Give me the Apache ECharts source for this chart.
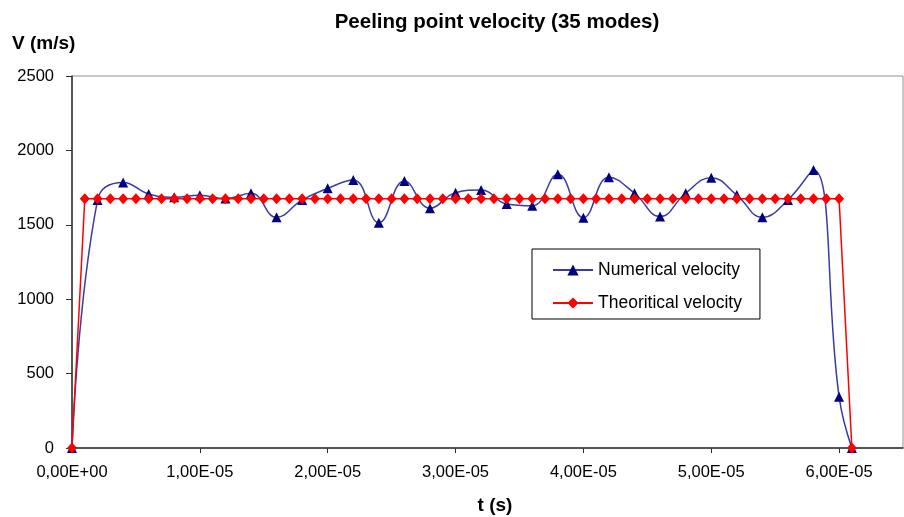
<!DOCTYPE html>
<html>
<head>
<meta charset="utf-8">
<script src="https://cdn.jsdelivr.net/npm/echarts@6/dist/echarts.min.js"></script>
<style>
  html, body { margin: 0; padding: 0; background: #fff; }
  #main { width: 904px; height: 517px; }
</style>
</head>
<body>
<div id="main"></div>
<script>
// time in microseconds
var numTimes = [0, 2, 4, 6, 8, 10, 12, 14, 16, 18, 20, 22, 24, 26, 28, 30,
  32, 34, 36, 38, 40, 42, 44, 46, 48, 50, 52, 54, 56, 58, 60, 61];
var numVelocity = [0, 1667, 1785, 1707, 1685, 1698, 1676, 1712, 1550, 1667, 1745,
  1801, 1514, 1794, 1611, 1716, 1734, 1640, 1628, 1839, 1548, 1819, 1712, 1555,
  1712, 1817, 1700, 1550, 1667, 1868, 345, 0];

var theoTimes = [0, 1, 2, 3, 4, 5, 6, 7, 8, 9, 10, 11, 12, 13, 14, 15, 16, 17, 18, 19,
  20, 21, 22, 23, 24, 25, 26, 27, 28, 29, 30, 31, 32, 33, 34, 35, 36, 37, 38, 39,
  40, 41, 42, 43, 44, 45, 46, 47, 48, 49, 50, 51, 52, 53, 54, 55, 56, 57, 58, 59, 60, 61];
var theoVelocity = [0, 1675, 1675, 1675, 1675, 1675, 1675, 1675, 1675, 1675, 1675,
  1675, 1675, 1675, 1675, 1675, 1675, 1675, 1675, 1675, 1675, 1675, 1675, 1675,
  1675, 1675, 1675, 1675, 1675, 1675, 1675, 1675, 1675, 1675, 1675, 1675, 1675,
  1675, 1675, 1675, 1675, 1675, 1675, 1675, 1675, 1675, 1675, 1675, 1675, 1675,
  1675, 1675, 1675, 1675, 1675, 1675, 1675, 1675, 1675, 1675, 1675, 0];

var xTicks = [0, 1e-5, 2e-5, 3e-5, 4e-5, 5e-5, 6e-5];

function pairs(ts, vs) {
  return ts.map(function (t, i) { return [t * 1e-6, vs[i]]; });
}

// excel style "1,00E-05"
function sciLabel(v) {
  if (Math.abs(v) < 1e-12) return '0,00E+00';
  var e = Math.floor(Math.log10(v) + 1e-9);
  var m = v / Math.pow(10, e);
  return m.toFixed(2).replace('.', ',') + 'E' + (e < 0 ? '-' : '+') +
    String(Math.abs(e)).padStart(2, '0');
}

var font = '"Liberation Sans", Arial, sans-serif';
var chart = echarts.init(document.getElementById('main'));

chart.setOption({
  animation: false,
  backgroundColor: '#fff',
  textStyle: { fontFamily: font },
  grid: {
    left: 72, right: 1, top: 76, bottom: 69,
    show: true, borderColor: '#909090', borderWidth: 1
  },
  graphic: [
    { type: 'text', x: 497, y: 22, style: { text: 'Peeling point velocity (35 modes)',
      font: 'bold 20.5px ' + font, fill: '#000', align: 'center', verticalAlign: 'middle' } },
    { type: 'text', x: 12, y: 44, style: { text: 'V (m/s)',
      font: 'bold 19px ' + font, fill: '#000', align: 'left', verticalAlign: 'middle' } },
    { type: 'text', x: 495, y: 506, style: { text: 't (s)',
      font: 'bold 19px ' + font, fill: '#000', align: 'center', verticalAlign: 'middle' } }
  ],
  legend: {
    left: 532, top: 249,
    orient: 'vertical',
    itemWidth: 40, itemHeight: 14, itemGap: 15,
    padding: [12, 18, 7, 20],
    borderColor: '#000', borderWidth: 1,
    textStyle: { fontSize: 17.5, color: '#000', fontFamily: font },
    data: ['Numerical velocity', 'Theoritical velocity']
  },
  xAxis: {
    type: 'value',
    min: 0, max: 6.5e-5, interval: 1e-5,
    splitLine: { show: false },
    axisLine: { onZero: false, lineStyle: { color: '#303030', width: 1.5 } },
    axisTick: { show: true, length: 5, customValues: xTicks, lineStyle: { color: '#303030' } },
    axisLabel: {
      customValues: xTicks,
      margin: 16, fontSize: 16.5, color: '#000', fontFamily: font,
      formatter: sciLabel
    }
  },
  yAxis: {
    type: 'value',
    min: 0, max: 2500, interval: 500,
    splitLine: { show: false },
    axisLine: { show: true, lineStyle: { color: '#303030', width: 1.5 } },
    axisTick: { show: true, length: 6, lineStyle: { color: '#303030' } },
    axisLabel: { margin: 18, fontSize: 16.5, color: '#000', fontFamily: font,
      formatter: function (v) { return String(v); } }
  },
  series: [
    {
      name: 'Numerical velocity',
      type: 'line',
      smooth: 0.45,
      clip: true,
      data: pairs(numTimes, numVelocity),
      symbol: 'triangle',
      symbolSize: 10,
      itemStyle: { color: '#000080' },
      lineStyle: { color: '#3a3aa8', width: 1.5 }
    },
    {
      name: 'Theoritical velocity',
      type: 'line',
      data: pairs(theoTimes, theoVelocity),
      symbol: 'diamond',
      symbolSize: [10, 11],
      itemStyle: { color: '#ff0000' },
      lineStyle: { color: '#ff0000', width: 1.5 }
    }
  ]
});

window.addEventListener('resize', function () { chart.resize(); });
</script>
</body>
</html>
